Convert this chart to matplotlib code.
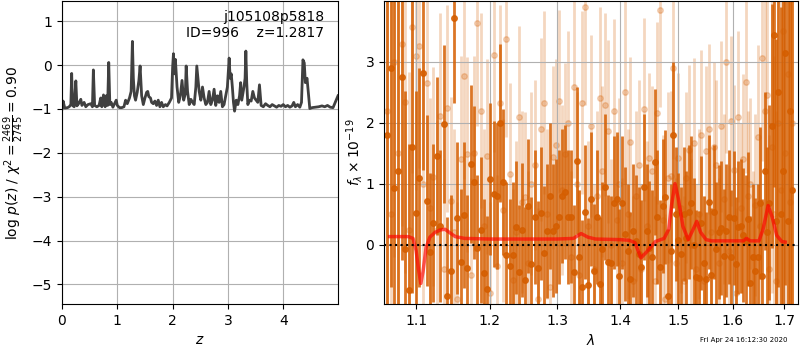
import matplotlib
matplotlib.use('Agg')
import matplotlib.pyplot as plt
from matplotlib.ticker import NullLocator, NullFormatter

##### Redshift fit: log p(z) #####
z_grid = [0.00, 0.02, 0.05, 0.10, 0.13, 0.16, 0.175, 0.19, 0.22, 0.25,
          0.27, 0.30, 0.34, 0.36, 0.40, 0.43, 0.47, 0.52, 0.55, 0.567,
          0.59, 0.63, 0.67, 0.70, 0.72, 0.75, 0.78, 0.80, 0.825, 0.845,
          0.865, 0.89, 0.92, 0.95, 0.98, 1.00, 1.04, 1.08, 1.12, 1.15,
          1.18, 1.22, 1.25, 1.273, 1.29, 1.31, 1.33, 1.36, 1.39, 1.412,
          1.44, 1.47, 1.50, 1.53, 1.55, 1.57, 1.60, 1.62, 1.65, 1.68,
          1.71, 1.74, 1.77, 1.80, 1.83, 1.87, 1.90, 1.94, 1.98, 2.00,
          2.015, 2.03, 2.05, 2.08, 2.11, 2.14, 2.17, 2.20, 2.23, 2.245,
          2.27, 2.30, 2.33, 2.36, 2.39, 2.42, 2.437, 2.46, 2.48, 2.51,
          2.54, 2.57, 2.60, 2.63, 2.66, 2.69, 2.72, 2.75, 2.78, 2.81,
          2.84, 2.87, 2.90, 2.93, 2.96, 2.99, 3.022, 3.04, 3.06, 3.08,
          3.10, 3.12, 3.15, 3.18, 3.21, 3.23, 3.25, 3.29, 3.31, 3.324,
          3.34, 3.36, 3.39, 3.42, 3.45, 3.48, 3.51, 3.54, 3.57, 3.60,
          3.64, 3.68, 3.72, 3.76, 3.80, 3.84, 3.88, 3.92, 3.96, 4.00,
          4.04, 4.08, 4.12, 4.16, 4.19, 4.22, 4.26, 4.30, 4.33, 4.356,
          4.38, 4.40, 4.43, 4.46, 4.48, 4.52, 4.58, 4.64, 4.70, 4.75,
          4.80, 4.85, 4.90, 4.94, 4.99]
log_pz = [-1.00, -0.82, -0.98, -0.97, -0.95, -0.90, -0.19, -0.92, -0.95, -0.36,
          -0.93, -0.88, -0.78, -0.92, -0.85, -0.95, -0.90, -0.88, -0.95, -0.11,
          -0.92, -0.95, -0.92, -0.75, -0.95, -0.68, -0.95, -0.70, -0.92, 0.06,
          -0.90, -0.85, -0.96, -0.88, -0.80, -0.92, -0.97, -0.97, -0.95, -0.80,
          -0.88, -0.75, -0.60, 0.54, -0.30, -0.70, -0.80, -0.62, -0.35, -0.02,
          -0.70, -0.90, -0.75, -0.62, -0.60, -0.72, -0.75, -0.85, -0.88, -0.82,
          -0.92, -0.80, -0.95, -0.85, -0.95, -0.90, -0.93, -0.85, -0.75, -0.05,
          0.26, -0.20, 0.13, -0.50, -0.85, -0.70, -0.35, -0.80, -0.65, -0.02,
          -0.60, -0.90, -0.78, -0.85, -0.90, -0.50, -0.02, -0.34, -0.60, -0.80,
          -0.50, -0.75, -0.90, -0.85, -0.60, -0.90, -0.80, -0.55, -0.92, -0.70,
          -0.85, -0.60, -0.95, -0.90, -0.70, -0.50, 0.16, -0.30, -0.20, -0.50,
          -0.85, -1.05, -0.80, -0.90, -0.70, -0.40, -0.80, -0.50, -0.30, 0.32,
          -0.40, -0.90, -0.80, -0.82, -0.60, -0.75, -0.80, -0.85, -0.45, -0.92,
          -0.95, -0.88, -0.92, -0.95, -0.90, -0.93, -0.96, -0.92, -0.94, -0.90,
          -0.95, -0.92, -0.96, -0.93, -0.85, -0.95, -0.90, -0.96, -0.85, 0.12,
          0.05, -0.40, -0.30, -0.70, -0.99, -0.97, -0.96, -0.95, -0.93, -0.95,
          -0.92, -0.96, -0.97, -0.85, -0.70]

##### 1D spectrum #####
wave = [1.0630, 1.0676, 1.0722, 1.0768, 1.0814, 1.0860, 1.0906, 1.0952, 1.0998, 1.1044,
        1.1090, 1.1136, 1.1182, 1.1228, 1.1274, 1.1320, 1.1366, 1.1412, 1.1458, 1.1504,
        1.1550, 1.1596, 1.1642, 1.1688, 1.1734, 1.1780, 1.1826, 1.1872, 1.1918, 1.1964,
        1.2010, 1.2056, 1.2102, 1.2148, 1.2194, 1.2240, 1.2286, 1.2332, 1.2378, 1.2424,
        1.2470, 1.2516, 1.2562, 1.2608, 1.2654, 1.2700, 1.2746, 1.2792, 1.2838, 1.2884,
        1.2930, 1.2976, 1.3022, 1.3068, 1.3114, 1.3160, 1.3206, 1.3252, 1.3298, 1.3344,
        1.3390, 1.3436, 1.3482, 1.3528, 1.3574, 1.3620, 1.3666, 1.3712, 1.3758, 1.3804,
        1.3850, 1.3896, 1.3942, 1.3988, 1.4034, 1.4080, 1.4126, 1.4172, 1.4218, 1.4264,
        1.4310, 1.4356, 1.4402, 1.4448, 1.4494, 1.4540, 1.4586, 1.4632, 1.4678, 1.4724,
        1.4770, 1.4816, 1.4862, 1.4908, 1.4954, 1.5000, 1.5046, 1.5092, 1.5138, 1.5184,
        1.5230, 1.5276, 1.5322, 1.5368, 1.5414, 1.5460, 1.5506, 1.5552, 1.5598, 1.5644,
        1.5690, 1.5736, 1.5782, 1.5828, 1.5874, 1.5920, 1.5966, 1.6012, 1.6058, 1.6104,
        1.6150, 1.6196, 1.6242, 1.6288, 1.6334, 1.6380, 1.6426, 1.6472, 1.6518, 1.6564,
        1.6610, 1.6656, 1.6702, 1.6748, 1.6794, 1.6840, 1.6886, 1.6932, 1.6978, 1.7024,
        1.7070, 1.7116, 1.7162]

# binned spectrum (dark points)
flux = [1.80, 2.90, 0.93, 1.20, 2.75, -0.07, -0.75, 1.60, 0.52, 1.10,
        2.82, 0.72, -0.13, 0.35, 1.46, 0.30, 1.98, -0.84, -0.44, 3.72,
        0.44, -0.29, 0.49, -0.38, 1.32, 1.02, -0.05, 0.24, -0.46, -0.73,
        1.08, 0.83, 0.79, 2.00, 1.02, -0.18, -0.35, -0.18, 0.28, -0.45,
        0.24, -0.59, 0.64, -0.32, 0.45, -0.39, 0.51, -0.14, 0.22, 0.80,
        0.23, 0.31, 0.45, 0.79, 0.87, 0.45, 0.46, -0.45, 1.38, -0.21,
        -0.70, 0.54, -0.67, 0.75, -0.43, 0.45, -0.65, -0.07, 0.94, -0.29,
        -0.30, 0.69, 0.75, -0.51, 0.69, 0.17, -0.10, -0.56, 0.23, 0.05,
        -0.15, -0.37, 0.94, 0.23, -0.05, -0.21, 1.36, 0.45, -0.37, 0.64,
        0.78, -0.84, -0.10, 1.80, 0.50, 0.07, -0.15, 0.50, 0.10, 0.54,
        0.69, 0.00, -0.53, -0.55, 0.35, -0.30, -0.56, 0.70, -0.50, 0.54,
        -0.07, 0.20, 0.27, -0.19, 0.23, 0.45, -0.20, 0.44, -0.32, 0.28,
        0.30, 0.15, 0.05, 0.42, -0.63, -0.20, -0.43, -0.20, 0.68, -0.51,
        1.21, 0.20, 0.69, 1.95, 3.44, 0.38, 2.50, 0.50, 1.20, 3.14,
        0.38, 2.20, 0.90]
flux_err = [3.6, 3.6, 3.2, 3.0, 3.0, 2.6, 2.4, 2.4, 2.0, 1.8,
            1.6, 1.4, 1.3, 1.3, 1.3, 1.25, 1.3, 1.3, 1.25, 1.4,
            1.25, 1.2, 1.2, 1.2, 1.3, 1.25, 1.2, 1.2, 1.2, 1.2,
            1.25, 1.2, 1.2, 1.3, 1.2, 1.2, 1.1, 1.2, 1.1, 1.1,
            1.1, 1.2, 1.1, 1.1, 1.1, 1.1, 1.1, 1.1, 1.1, 1.2,
            1.1, 1.1, 1.1, 1.1, 1.1, 1.1, 1.1, 1.1, 1.2, 1.1,
            1.1, 1.1, 1.1, 1.1, 1.1, 1.1, 1.1, 1.1, 1.2, 1.1,
            1.1, 1.1, 1.1, 1.1, 1.1, 1.1, 1.1, 1.1, 1.1, 1.1,
            1.1, 1.1, 1.2, 1.1, 1.1, 1.1, 1.2, 1.1, 1.1, 1.1,
            1.1, 1.1, 1.1, 1.2, 1.1, 1.1, 1.1, 1.1, 1.1, 1.1,
            1.1, 1.1, 1.1, 1.1, 1.1, 1.1, 1.1, 1.1, 1.1, 1.1,
            1.1, 1.1, 1.1, 1.1, 1.1, 1.1, 1.1, 1.1, 1.1, 1.1,
            1.1, 1.1, 1.1, 1.1, 1.1, 1.2, 1.2, 1.2, 1.25, 1.25,
            1.3, 1.4, 1.6, 2.0, 2.5, 3.0, 3.2, 3.4, 3.6, 3.8,
            4.0, 4.0, 4.0]

# individual beam spectrum (light points)
flux_beam = [2.20, 0.50, 3.00, 1.50, 3.30, 2.34, 0.24, 3.57, 3.10, 3.26,
             1.00, 2.66, 0.60, 1.11, 0.24, 2.11, -0.40, 2.24, 0.72, 0.20,
             -0.90, 1.40, 2.77, 1.48, -0.50, 1.50, 3.64, 2.20, 0.30, 1.45,
             -0.80, 3.12, -0.35, 2.33, 0.56, 3.37, 1.16, -0.59, 0.20, 2.09,
             0.70, 0.78, -0.30, 1.00, 1.31, -0.90, 1.89, 2.33, 0.50, -0.70,
             1.43, 1.64, 2.35, 0.90, 1.48, 2.00, -0.20, 2.59, 1.00, -0.50,
             2.33, 3.90, 0.30, 1.95, -0.40, 0.80, 2.40, 1.20, 2.30, 1.86,
             0.00, 2.20, 0.40, 1.00, -0.30, 2.50, 0.50, 1.68, -0.60, 0.80,
             1.31, -0.40, 2.22, 0.30, 1.42, 1.20, -0.60, 2.16, 3.86, 0.40,
             -0.90, 1.10, 1.12, 2.90, -0.30, 1.42, 0.60, -0.60, 1.10, 1.55,
             0.00, 1.66, -0.40, 0.50, 1.80, -0.60, 1.54, 1.90, 0.20, 1.60,
             1.30, -0.30, 1.94, 0.75, 3.00, -0.10, 2.03, 1.22, -0.80, 2.10,
             0.60, 1.40, 2.67, 0.80, 1.00, -0.20, 0.65, 1.77, 0.30, 3.07,
             2.20, 2.46, -0.40, 1.60, 0.50, -0.60, 2.00, 0.90, 3.50, 1.50,
             2.80, 0.70, 2.00]
flux_beam_err = [3.5, 3.5, 3.2, 3.0, 3.0, 2.8, 2.6, 2.4, 2.2, 2.0,
                 2.0, 1.9, 1.8, 1.8, 1.8, 1.7, 1.8, 1.7, 1.7, 1.7,
                 1.6, 1.7, 1.7, 1.6, 1.6, 1.6, 1.7, 1.6, 1.6, 1.6,
                 1.5, 1.6, 1.5, 1.6, 1.5, 1.6, 1.5, 1.5, 1.5, 1.5,
                 1.5, 1.4, 1.5, 1.5, 1.4, 1.5, 1.5, 1.5, 1.4, 1.5,
                 1.5, 1.4, 1.5, 1.4, 1.5, 1.5, 1.4, 1.5, 1.5, 1.4,
                 1.5, 1.6, 1.4, 1.5, 1.4, 1.4, 1.5, 1.4, 1.5, 1.5,
                 1.4, 1.5, 1.4, 1.4, 1.4, 1.5, 1.4, 1.4, 1.4, 1.4,
                 1.4, 1.4, 1.5, 1.4, 1.4, 1.4, 1.4, 1.5, 1.6, 1.4,
                 1.4, 1.4, 1.4, 1.5, 1.4, 1.4, 1.4, 1.4, 1.4, 1.4,
                 1.4, 1.4, 1.4, 1.4, 1.4, 1.4, 1.4, 1.4, 1.4, 1.4,
                 1.4, 1.4, 1.4, 1.4, 1.5, 1.4, 1.4, 1.4, 1.4, 1.4,
                 1.4, 1.4, 1.5, 1.4, 1.4, 1.4, 1.5, 1.5, 1.6, 1.7,
                 1.8, 2.0, 2.2, 2.4, 2.6, 2.8, 3.0, 3.2, 3.4, 3.6,
                 3.8, 4.0, 4.0]

# best-fit model
model_wave = [1.0660, 1.0731, 1.0900, 1.0960, 1.1000, 1.1030, 1.1061, 1.1090, 1.1130,
              1.1180, 1.1250, 1.1320, 1.1383, 1.1440, 1.1520, 1.1650, 1.2000, 1.2500,
              1.3000, 1.3250, 1.3370, 1.3480, 1.3600, 1.4000, 1.4150, 1.4250, 1.4350,
              1.4450, 1.4600, 1.4750, 1.4830, 1.4880, 1.4940, 1.5000, 1.5080, 1.5177,
              1.5250, 1.5330, 1.5400, 1.5500, 1.5600, 1.6000, 1.6200, 1.6260, 1.6330,
              1.6500, 1.6580, 1.6680, 1.6760, 1.6850, 1.6950, 1.7020]
model_flux = [0.13, 0.13, 0.13, 0.10, -0.10, -0.40, -0.64, -0.45, -0.05, 0.12, 0.20,
              0.24, 0.25, 0.20, 0.13, 0.10, 0.09, 0.09, 0.09, 0.10, 0.18, 0.12, 0.09,
              0.08, 0.07, 0.03, -0.22, -0.12, 0.05, 0.10, 0.25, 0.65, 1.00, 0.75, 0.30,
              0.08, 0.22, 0.38, 0.20, 0.08, 0.06, 0.06, 0.06, 0.10, 0.06, 0.06, 0.25,
              0.64, 0.45, 0.15, 0.05, 0.04]

grism_color = (0.835, 0.369, 0.0)

fig = plt.figure(figsize=(8, 3.5), dpi=100)

##### Left panel: p(z) #####
ax = fig.add_axes([0.0775, 0.131, 0.345, 0.866])
ax.plot(z_grid, log_pz, color='0.25', lw=2)
ax.set_xlim(0, 4.99)
ax.set_ylim(-5.45, 1.46)
ax.set_xticks([0, 1, 2, 3, 4])
ax.set_yticks([-5, -4, -3, -2, -1, 0, 1])
ax.grid()
ax.set_xlabel('$z$')
ax.set_ylabel(r'$\log\,p(z)$' + ' / ' + r'$\chi^2=\frac{2469}{2745}=0.90$')
ax.text(0.95, 0.97, 'j105108p5818\nID=996    z=1.2817', ha='right', va='top',
        transform=ax.transAxes, fontsize=10)

##### Right panel: spectrum #####
ax2 = fig.add_axes([0.48, 0.131, 0.5175, 0.866])
ax2.errorbar(wave, flux_beam, yerr=flux_beam_err, marker='o', ms=4, linestyle='None',
             color=grism_color, alpha=0.25, elinewidth=2, capsize=0, zorder=1)
ax2.errorbar(wave, flux, yerr=flux_err, marker='o', ms=4, linestyle='None',
             color=grism_color, alpha=0.85, elinewidth=2, capsize=0, zorder=2)
ax2.plot(model_wave, model_flux, color='r', alpha=0.65, lw=2.5, zorder=3)
ax2.axhline(0, color='k', linestyle=':', lw=1.5, zorder=4)

ax2.set_xscale('log')
ax2.set_xlim(1.059, 1.728)
ax2.set_ylim(-0.98, 4.0)
ax2.set_xticks([1.1, 1.2, 1.3, 1.4, 1.5, 1.6, 1.7])
ax2.set_xticklabels(['1.1', '1.2', '1.3', '1.4', '1.5', '1.6', '1.7'])
ax2.xaxis.set_minor_locator(NullLocator())
ax2.xaxis.set_minor_formatter(NullFormatter())
ax2.set_yticks([0, 1, 2, 3])
ax2.grid()
ax2.set_xlabel(r'$\lambda$')
ax2.set_ylabel(r'$f_\lambda \times 10^{-19}$')
ax2.yaxis.set_label_coords(-0.045, 0.5)

fig.text(0.985, 0.02, 'Fri Apr 24 16:12:30 2020', ha='right', va='bottom', fontsize=5)

plt.savefig('out.png', dpi=100)
plt.close()
